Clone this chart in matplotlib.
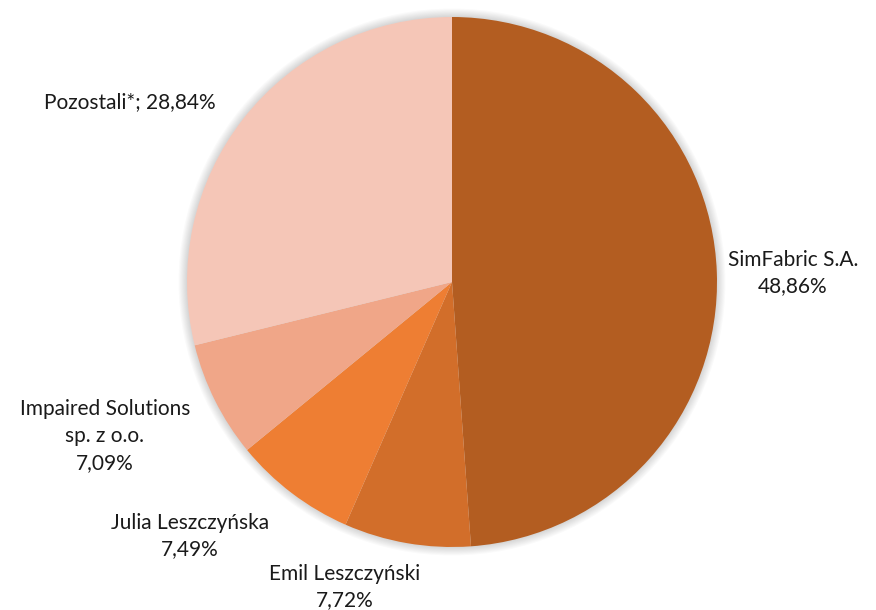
import matplotlib
matplotlib.use("Agg")
import matplotlib.pyplot as plt
from matplotlib.patches import Circle

names = ["SimFabric S.A.", "Emil Leszczyński", "Julia Leszczyńska",
         "Impaired Solutions\nsp. z o.o.", "Pozostali*"]
values = [48.86, 7.72, 7.49, 7.09, 28.84]
colors = ["#B35D21", "#D26E2A", "#EE7E33", "#F0A688", "#F5C6B7"]

W, H = 876, 610
CX, CY, R = 452, 282, 265

fig = plt.figure(figsize=(W / 100, H / 100), dpi=100)
ax = fig.add_axes([0, 0, 1, 1])
ax.set_aspect("equal")
ax.axis("off")

def px(x, y):
    return ((x - CX) / R, (CY - y) / R)

# soft shadow
for i in range(8):
    ax.add_patch(Circle((0.0, 0.0), 1 + 0.004 * (i + 1), color="black",
                        alpha=0.02, lw=0, zorder=0))

ax.pie(values, colors=colors, startangle=90, counterclock=False, radius=1,
       wedgeprops=dict(linewidth=0))
ax.set_xlim(-CX / R, (W - CX) / R)
ax.set_ylim(-(H - CY) / R, CY / R)

def fmt(v):
    return f"{v:.2f}".replace(".", ",") + "%"

font = dict(family="Lato", fontsize=15, color="#1a1a1a", ha="center",
            va="center", linespacing=1.42)
label_px = [(793, 273), (345, 587), (190, 536), (105, 436), (130, 102)]
for i, (n, v) in enumerate(zip(names, values)):
    x, y = px(*label_px[i])
    txt = f"{n}; {fmt(v)}" if n == "Pozostali*" else f"{n}\n{fmt(v)}"
    ax.text(x, y, txt, **font)

fig.savefig("out.png", dpi=100, facecolor="white")
